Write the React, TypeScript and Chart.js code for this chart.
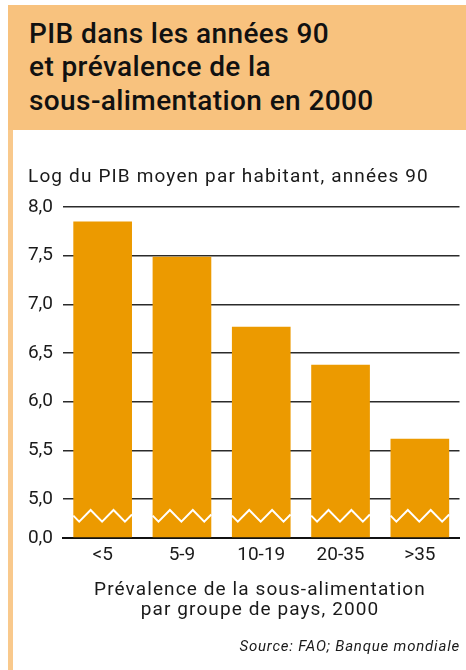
import React, { useEffect, useRef } from "react";
import { Chart, registerables } from "chart.js";

Chart.register(...registerables);

// ---- data ----
const CATEGORIES = ["<5", "5-9", "10-19", "20-35", ">35"];
const LOG_GDP = [7.85, 7.49, 6.77, 6.38, 5.62];
const Y_TICKS = [5.0, 5.5, 6.0, 6.5, 7.0, 7.5, 8.0];
const Y_MAX = 8.0;
const BREAK_FLOOR = 4.6; // axis position standing for 0,0 (broken axis)
const ZERO_LABEL = "0,0";

const TITLE_LINES = ["PIB dans les années 90", "et prévalence de la", "sous-alimentation en 2000"];
const Y_TITLE = "Log du PIB moyen par habitant, années 90";
const X_TITLE_LINES = ["Prévalence de la sous-alimentation", "par groupe de pays, 2000"];
const SOURCE = "Source: FAO; Banque mondiale";

// ---- styles ----
const FONT = "Roboto, 'Noto Sans', sans-serif";
const HEADER_BG = "#F8C27E";
const STRIPE = "#F9C98C";
const BAR_COLOR = "#EC9A00";
const TEXT = "#1a1a1a";

const fmt = (v: number) => v.toFixed(1).replace(".", ",");

const zigzagPlugin = {
  id: "zigzag",
  afterDatasetsDraw(chart: any) {
    const y = chart.scales.y;
    const top = y.getPixelForValue(Y_TICKS[0]);
    const bottom = y.getPixelForValue(BREAK_FLOOR);
    const c = top + (bottom - top) * 0.43;
    const amp = 5.8;
    const ctx = chart.ctx;
    const meta = chart.getDatasetMeta(0);
    ctx.save();
    ctx.strokeStyle = "#ffffff";
    ctx.lineWidth = 2;
    ctx.lineJoin = "miter";
    meta.data.forEach((bar: any) => {
      const { x, width } = bar.getProps(["x", "width"], true);
      const L = x - width / 2;
      const R = x + width / 2;
      const period = width * 0.39;
      const first = L + width * 0.1;
      const f = (px: number) => {
        let t = ((px - first) / period) % 1;
        if (t < 0) t += 1;
        const d = Math.min(t, 1 - t);
        return c + amp - 4 * amp * d;
      };
      ctx.beginPath();
      ctx.moveTo(L, f(L));
      for (let k = -1; k < 10; k++) {
        const v = first + k * period;
        const p = v + period / 2;
        if (v > L && v < R) ctx.lineTo(v, f(v));
        if (p > L && p < R) ctx.lineTo(p, f(p));
      }
      ctx.lineTo(R, f(R));
      ctx.stroke();
    });
    ctx.restore();
  },
};

function BarChart() {
  const ref = useRef<HTMLCanvasElement | null>(null);
  useEffect(() => {
    if (!ref.current) return;
    const chart = new Chart(ref.current, {
      type: "bar",
      data: {
        labels: CATEGORIES,
        datasets: [
          {
            data: LOG_GDP,
            backgroundColor: BAR_COLOR,
            base: BREAK_FLOOR,
            barPercentage: 0.74,
            categoryPercentage: 1,
          } as any,
        ],
      },
      options: {
        responsive: false,
        animation: false,
        layout: { padding: { left: 0, right: 6.5, top: 207, bottom: 0 } },
        plugins: {
          legend: { display: false },
          tooltip: { enabled: false },
          title: { display: false },
        },
        scales: {
          x: {
            z: 1,
            grid: { display: false, drawTicks: false },
            border: { display: true, color: "#111", width: 2 },
            ticks: { color: TEXT, font: { family: FONT, size: 19 }, padding: 6 },
            afterFit: (s: any) => {
              s.height = 132;
            },
          },
          y: {
            min: BREAK_FLOOR,
            max: Y_MAX,
            grid: { color: "#2b2b2b", lineWidth: 1.5, drawTicks: false },
            border: { display: false },
            ticks: {
              color: TEXT,
              font: { family: FONT, size: 19 },
              padding: 10,
              callback: (v: any) => (Math.abs(v - BREAK_FLOOR) < 1e-9 ? ZERO_LABEL : fmt(Number(v))),
            },
            afterBuildTicks: (s: any) => {
              s.ticks = [BREAK_FLOOR, ...Y_TICKS].map((v) => ({ value: v }));
            },
            afterFit: (s: any) => {
              s.width = 63;
            },
          },
        },
      } as any,
      plugins: [zigzagPlugin],
    });
    return () => chart.destroy();
  }, []);
  return (
    <canvas
      ref={ref}
      width={466}
      height={670}
      style={{ position: "absolute", left: 0, top: 0, width: 466, height: 670 }}
    />
  );
}

export default function App() {
  return (
    <div
      style={{
        position: "absolute",
        left: 0,
        top: 0,
        width: 466,
        height: 670,
        background: "#fff",
        overflow: "hidden",
        fontFamily: FONT,
        color: TEXT,
      }}
    >
      <div style={{ position: "absolute", left: 8, top: 5, width: 458, height: 125, background: HEADER_BG }} />
      <div style={{ position: "absolute", left: 8, top: 130, width: 4.5, height: 540, background: STRIPE }} />
      <div
        style={{
          position: "absolute",
          left: 29,
          top: 16.7,
          fontSize: 28,
          fontWeight: 500,
          lineHeight: "33.5px",
          letterSpacing: 0.4,
          whiteSpace: "nowrap",
          color: "#111",
        }}
      >
        {TITLE_LINES.map((t, i) => (
          <div key={i}>{t}</div>
        ))}
      </div>
      <BarChart />
      <div
        style={{
          position: "absolute",
          left: 28,
          top: 164.5,
          fontSize: 19,
          lineHeight: "22px",
          letterSpacing: 1.15,
          whiteSpace: "nowrap",
        }}
      >
        {Y_TITLE}
      </div>
      <div
        style={{
          position: "absolute",
          left: 60,
          width: 400,
          top: 578.5,
          fontSize: 19,
          lineHeight: "20px",
          letterSpacing: 1.1,
          textAlign: "center",
          whiteSpace: "nowrap",
        }}
      >
        {X_TITLE_LINES.map((t, i) => (
          <div key={i}>{t}</div>
        ))}
      </div>
      <div
        style={{
          position: "absolute",
          right: 6,
          top: 637,
          fontSize: 15,
          lineHeight: "18px",
          fontStyle: "italic",
          letterSpacing: 0.8,
          whiteSpace: "nowrap",
        }}
      >
        {SOURCE}
      </div>
    </div>
  );
}
